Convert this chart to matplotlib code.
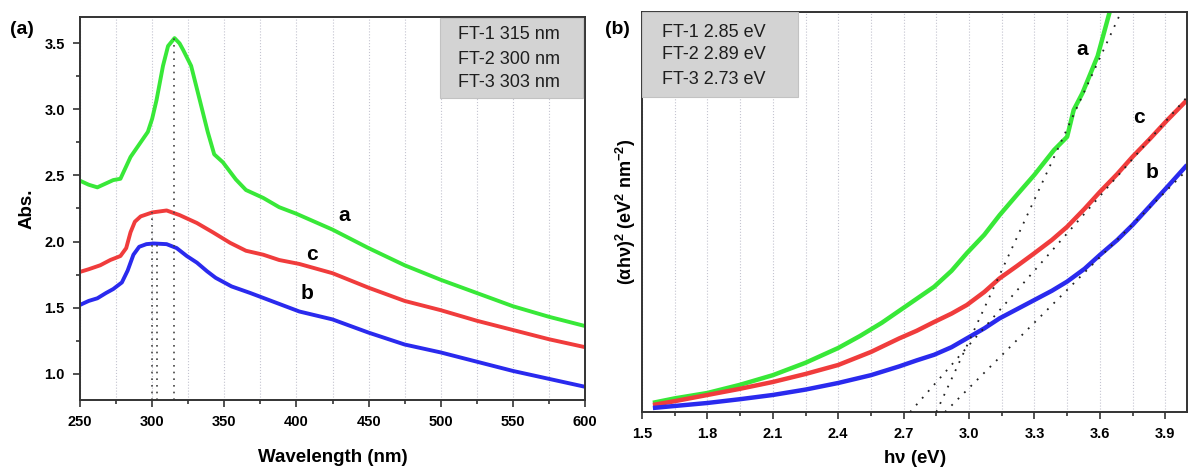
import matplotlib
matplotlib.use("Agg")
import matplotlib.pyplot as plt
from matplotlib.patches import Rectangle
from matplotlib.ticker import MultipleLocator
import numpy as np

matplotlib.rcParams['font.family'] = ['Liberation Sans', 'DejaVu Sans']
matplotlib.rcParams['mathtext.fontset'] = 'custom'
matplotlib.rcParams['mathtext.bf'] = 'Liberation Sans:bold'
matplotlib.rcParams['mathtext.rm'] = 'Liberation Sans:bold'
matplotlib.rcParams['mathtext.default'] = 'bf'

# ---- (a) absorption spectra ----
wl_a = [250, 256, 262, 268, 273, 278, 285, 291, 297, 300, 303, 307.5, 311, 315.5,
        319, 321.5, 327, 333, 338.5, 343, 349, 358, 365, 377, 388, 400, 425, 450,
        475, 500, 525, 550, 575, 600]
abs_a = [2.46, 2.43, 2.41, 2.44, 2.465, 2.475, 2.64, 2.735, 2.83, 2.93, 3.07, 3.33,
         3.48, 3.54, 3.50, 3.45, 3.33, 3.07, 2.83, 2.66, 2.60, 2.47, 2.39, 2.33,
         2.26, 2.21, 2.09, 1.95, 1.82, 1.71, 1.61, 1.51, 1.43, 1.36]

wl_c = [250, 256, 264, 271, 278, 282, 285, 288, 292, 300, 310, 319, 331, 342, 354,
        365, 377, 388, 402, 425, 450, 475, 500, 525, 550, 575, 600]
abs_c = [1.77, 1.79, 1.82, 1.86, 1.89, 1.95, 2.07, 2.15, 2.19, 2.22, 2.235, 2.20,
         2.14, 2.07, 1.99, 1.93, 1.90, 1.86, 1.83, 1.76, 1.65, 1.55, 1.48, 1.40,
         1.33, 1.26, 1.20]

wl_b = [250, 256, 262, 268, 273, 279, 283, 287, 291, 296, 301, 310, 317, 324, 331,
        338, 344, 355, 368, 385, 402, 425, 450, 475, 500, 525, 550, 575, 600]
abs_b = [1.52, 1.55, 1.57, 1.61, 1.64, 1.69, 1.78, 1.90, 1.96, 1.98, 1.985, 1.98,
         1.95, 1.89, 1.84, 1.775, 1.725, 1.66, 1.61, 1.54, 1.47, 1.41, 1.31, 1.22,
         1.16, 1.09, 1.02, 0.96, 0.90]

peak_wl = [315, 300, 303]
peak_abs = [3.54, 2.22, 1.98]
legend_a = ["FT-1 315 nm", "FT-2 300 nm", "FT-3 303 nm"]

# ---- (b) Tauc plot ----
ev_a = [1.55, 1.65, 1.8, 1.95, 2.1, 2.25, 2.4, 2.5, 2.6, 2.68, 2.76, 2.84, 2.92,
        2.99, 3.07, 3.14, 3.22, 3.3, 3.39, 3.45, 3.48, 3.52, 3.59, 3.645]
tauc_a = [2.3, 3.4, 4.75, 6.8, 9.2, 12.3, 16, 19, 22.3, 25.3, 28.3, 31.3, 35.3,
          39.7, 44.3, 49.2, 54.3, 59.3, 65.5, 68.8, 75.5, 79.7, 89, 100]

ev_c = [1.55, 1.65, 1.8, 1.95, 2.1, 2.25, 2.4, 2.55, 2.68, 2.76, 2.84, 2.92, 2.99,
        3.07, 3.14, 3.22, 3.3, 3.38, 3.45, 3.53, 3.6, 3.68, 3.75, 3.83, 3.91, 4.0]
tauc_c = [1.75, 2.7, 4.25, 5.8, 7.5, 9.5, 11.75, 15, 18.4, 20.3, 22.5, 24.6, 26.75,
          30, 33.4, 36.5, 39.7, 43, 46.3, 50.8, 55, 59.5, 63.8, 68.3, 73, 78]

ev_b = [1.55, 1.65, 1.8, 1.95, 2.1, 2.25, 2.4, 2.55, 2.68, 2.76, 2.84, 2.92, 2.99,
        3.07, 3.14, 3.22, 3.3, 3.38, 3.45, 3.53, 3.6, 3.68, 3.75, 3.83, 3.91, 4.0]
tauc_b = [1.0, 1.5, 2.25, 3.2, 4.25, 5.6, 7.25, 9.2, 11.4, 12.9, 14.3, 16.2, 18.4,
          20.9, 23.4, 25.7, 28, 30.3, 32.6, 35.8, 39.25, 43, 46.75, 51.5, 56.3, 61.75]

gap = [2.85, 2.89, 2.73]          # a, b, c
fit_slope = [118, 54.5, 62]
legend_b = ["FT-1 2.85 eV", "FT-2 2.89 eV", "FT-3 2.73 eV"]

GREEN = '#38e838'
RED = '#f03c3c'
BLUE = '#2a2aee'
GRID = '#c4c4d0'


def style_axes(ax):
    for s in ax.spines.values():
        s.set_color('#333333')
        s.set_linewidth(1.4)
    ax.tick_params(which='both', direction='out', width=1.2, color='#333333')
    ax.tick_params(which='major', length=5, labelsize=10.5, pad=6)
    ax.tick_params(which='minor', length=3)
    for t in ax.get_xticklabels() + ax.get_yticklabels():
        t.set_fontweight('bold')


def legend_box(ax, x0, y0, w, h, tx, ty, lines):
    ax.add_patch(Rectangle((x0, y0), w, h, transform=ax.transAxes,
                           facecolor='#d3d3d3', edgecolor='#c2c2c2', lw=0.8,
                           zorder=5, clip_on=False))
    for yy, s in zip(ty, lines):
        ax.text(tx, yy, s, transform=ax.transAxes, fontsize=13, va='center',
                ha='left', color='#1e1e1e', zorder=6)


fig = plt.figure(figsize=(12, 4.76), dpi=100)

# panel (a)
ax1 = fig.add_axes([0.0667, 0.1597, 0.4208, 0.8046])
ax1.set_xlim(250, 600)
ax1.set_ylim(0.8, 3.7)
ax1.xaxis.set_major_locator(MultipleLocator(50))
ax1.xaxis.set_minor_locator(MultipleLocator(25))
ax1.yaxis.set_major_locator(MultipleLocator(0.5))
ax1.yaxis.set_minor_locator(MultipleLocator(0.25))
ax1.set_yticks([1.0, 1.5, 2.0, 2.5, 3.0, 3.5])
ax1.xaxis.grid(True, which='both', linestyle=':', color=GRID, lw=0.8)
ax1.set_axisbelow(True)

ax1.plot(wl_a, abs_a, color=GREEN, lw=2.8, solid_capstyle='butt')
ax1.plot(wl_c, abs_c, color=RED, lw=2.8, solid_capstyle='butt')
ax1.plot(wl_b, abs_b, color=BLUE, lw=2.8, solid_capstyle='butt')
for w, a in zip(peak_wl, peak_abs):
    ax1.plot([w, w], [0.8, a], color='#444444', lw=1.2, linestyle=(0, (1, 3)))

ax1.text(433, 2.20, 'a', fontsize=15, fontweight='bold', ha='center', va='center')
ax1.text(411, 1.90, 'c', fontsize=15, fontweight='bold', ha='center', va='center')
ax1.text(407, 1.61, 'b', fontsize=15, fontweight='bold', ha='center', va='center')

legend_box(ax1, 0.713, 0.789, 0.283, 0.208, 0.748, [0.953, 0.890, 0.830], legend_a)

ax1.set_xlabel('Wavelength (nm)', fontsize=13.5, fontweight='bold', labelpad=14)
ax1.set_ylabel('Abs.', fontsize=13.5, fontweight='bold', labelpad=6)
style_axes(ax1)

# panel (b)
ax2 = fig.add_axes([0.535, 0.1345, 0.4542, 0.8403])
ax2.set_xlim(1.5, 4.0)
ax2.set_ylim(0, 100)
ax2.xaxis.set_major_locator(MultipleLocator(0.3))
ax2.xaxis.set_minor_locator(MultipleLocator(0.15))
ax2.set_xticks([1.5, 1.8, 2.1, 2.4, 2.7, 3.0, 3.3, 3.6, 3.9])
ax2.set_yticks([])
ax2.xaxis.grid(True, which='both', linestyle=':', color=GRID, lw=0.8)
ax2.set_axisbelow(True)

ax2.plot(ev_a, tauc_a, color=GREEN, lw=3.2, solid_capstyle='butt')
ax2.plot(ev_c, tauc_c, color=RED, lw=3.2, solid_capstyle='butt')
ax2.plot(ev_b, tauc_b, color=BLUE, lw=3.2, solid_capstyle='butt')
for g, k in zip(gap, fit_slope):
    x_end = min(g + 100.0 / k, 4.0)
    ax2.plot([g, x_end], [0, k * (x_end - g)], color='#222222', lw=1.3,
             linestyle=(0, (1, 4)), zorder=4)

ax2.text(3.52, 90.5, 'a', fontsize=15, fontweight='bold', ha='center', va='center')
ax2.text(3.78, 73.5, 'c', fontsize=15, fontweight='bold', ha='center', va='center')
ax2.text(3.84, 59.8, 'b', fontsize=15, fontweight='bold', ha='center', va='center')

legend_box(ax2, 0.0, 0.7875, 0.286, 0.2125, 0.037, [0.9475, 0.8925, 0.830], legend_b)

ax2.set_xlabel(r'h$\nu$ (eV)', fontsize=13.5, fontweight='bold', labelpad=5)
ax2.set_ylabel(r'($\alpha$h$\nu$)$^{2}$ (eV$^{2}$ nm$^{-2}$)', fontsize=13,
               fontweight='bold', labelpad=3)
style_axes(ax2)

fig.text(0.008, 0.937, '(a)', fontsize=14, fontweight='bold', va='center')
fig.text(0.504, 0.937, '(b)', fontsize=14, fontweight='bold', va='center')

fig.savefig('out.png', dpi=100)
